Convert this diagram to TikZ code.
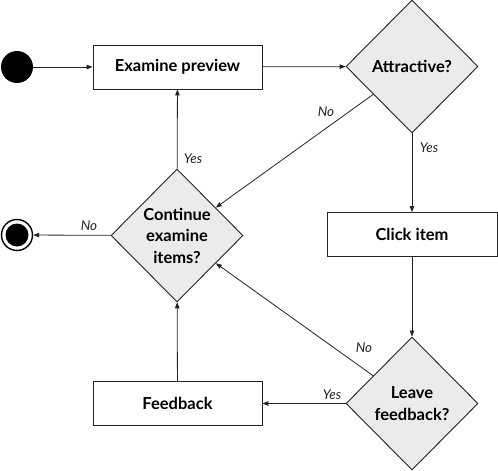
\documentclass[tikz,border=0pt]{standalone}
\usepackage{fontspec}
\setmainfont{Lato}
\usetikzlibrary{shapes.geometric,arrows.meta}
\definecolor{linec}{HTML}{222222}
\definecolor{dfill}{HTML}{EBEBEB}
\begin{document}
\begin{tikzpicture}[x=1pt,y=-1pt,
  boxnode/.style={draw=linec,line width=0.9pt,fill=white,minimum width=169pt,minimum height=44pt,inner sep=0pt,font=\fontsize{16.5}{18}\selectfont\bfseries},
  decnode/.style={diamond,draw=linec,line width=0.9pt,fill=dfill,minimum width=132pt,minimum height=133pt,inner sep=0pt,align=center,font=\fontsize{16.5}{21.5}\selectfont\bfseries},
  flow/.style={draw=linec,line width=0.8pt,-{Triangle[length=6pt,width=4.5pt]}},
  lbl/.style={font=\fontsize{13.5}{15}\selectfont\itshape,text=linec,inner sep=1pt}]
\useasboundingbox (0,0) rectangle (498,471);
\node[circle,fill=black,minimum size=32pt,inner sep=0pt] (start) at (17,67) {};
\node[boxnode] (exam) at (177.5,67) {Examine preview};
\node[decnode] (attr) at (412,66.5) {Attractive?};
\node[boxnode,minimum width=170pt] (click) at (412,234.5) {Click item};
\node[decnode] (leave) at (412,403.5) {Leave\\feedback?};
\node[boxnode] (fb) at (177.5,403.5) {Feedback};
\node[decnode] (cont) at (177,235.5) {Continue\\examine\\items?};
\node[circle,draw=black,line width=1.4pt,minimum size=31pt,inner sep=0pt] (endo) at (17,235) {};
\node[circle,fill=black,minimum size=23pt,inner sep=0pt] (endi) at (17,235) {};

\draw[flow] (start) -- (exam);
\draw[flow] (exam) -- (attr);
\draw[flow] (attr) -- (cont);
\draw[flow] (attr) -- (click);
\draw[flow] (click) -- (leave);
\draw[flow] (leave) -- (cont);
\draw[flow] (leave) -- (fb);
\draw[flow] (fb) -- (cont);
\draw[flow] (cont) -- (exam);
\draw[flow] (cont) -- (endo);

\node[lbl] (l1) at (326,112) {No};
\node[lbl] (l2) at (429,148) {Yes};
\node[lbl] (l3) at (364,348) {No};
\node[lbl] (l4) at (332,395) {Yes};
\node[lbl] (l5) at (193,159) {Yes};
\node[lbl] (l6) at (89,226) {No};
\end{tikzpicture}
\end{document}
